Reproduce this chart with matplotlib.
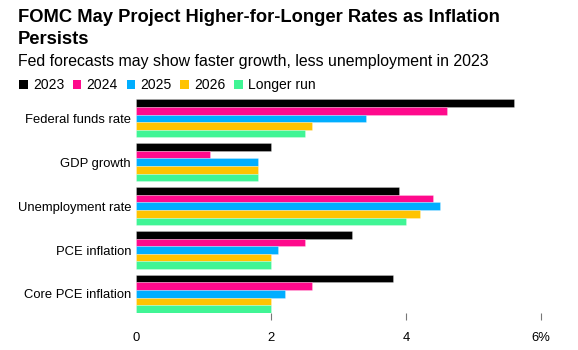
import numpy as np
import matplotlib
matplotlib.use("Agg")
import matplotlib.pyplot as plt
from matplotlib.patches import Patch

plt.rcParams['font.family'] = ['Liberation Sans', 'DejaVu Sans']

# data
categories = ["Federal funds rate", "GDP growth", "Unemployment rate",
              "PCE inflation", "Core PCE inflation"]
series_names = ["2023", "2024", "2025", "2026", "Longer run"]
v2023 = [5.6, 2.0, 3.9, 3.2, 3.8]
v2024 = [4.6, 1.1, 4.4, 2.5, 2.6]
v2025 = [3.4, 1.8, 4.5, 2.1, 2.2]
v2026 = [2.6, 1.8, 4.2, 2.0, 2.0]
vlonger = [2.5, 1.8, 4.0, 2.0, 2.0]
tick_vals = [0, 2, 4, 6]
tick_labels = ["0", "2", "4", "6%"]

colors = ["#000000", "#ff0a8c", "#00aeff", "#ffc300", "#40f595"]
series = [v2023, v2024, v2025, v2026, vlonger]

W, H = 578, 350
fig = plt.figure(figsize=(W / 100, H / 100), dpi=100)
ax = fig.add_axes([136 / W, 1 - 313 / H, 405 / W, (313 - 99.3) / H])

bar_h = 0.174
y = np.arange(len(categories))
for i, (vals, col) in enumerate(zip(series, colors)):
    offs = (i - 2) * bar_h
    ax.barh(y + offs, vals, height=bar_h, color=col,
            edgecolor=(1, 1, 1, 0.35), linewidth=0.5, label=series_names[i])

ax.set_xlim(0, 6)
ax.set_ylim(len(categories) - 1 + 2.5 * bar_h, -2.5 * bar_h)
ax.set_yticks(y)
ax.set_yticklabels(categories, fontsize=9.4, color="black")
ax.tick_params(axis="y", length=0, pad=3.6)
ax.set_xticks(tick_vals)
ax.set_xticklabels(tick_labels, fontsize=9.4, color="black")
ax.tick_params(axis="x", length=5, width=0.8, color="#777777", pad=8.5)
ax.xaxis.get_major_ticks()[0].tick1line.set_visible(False)
for s in ax.spines.values():
    s.set_visible(False)

# title block
fig.text(18 / W, 1 - 22 / H, "FOMC May Project Higher-for-Longer Rates as Inflation",
         fontsize=13.2, fontweight="bold", va="baseline", ha="left")
fig.text(18 / W, 1 - 44 / H, "Persists",
         fontsize=13.2, fontweight="bold", va="baseline", ha="left")
fig.text(18 / W, 1 - 66 / H, "Fed forecasts may show faster growth, less unemployment in 2023",
         fontsize=11.4, va="baseline", ha="left")

handles = [Patch(facecolor=c, edgecolor="none") for c in colors]
fig.legend(handles, series_names, loc="center left",
           bbox_to_anchor=(19 / W, 1 - 85 / H), ncol=5, frameon=False,
           fontsize=10, handlelength=0.62, handleheight=0.62,
           handletextpad=0.38, columnspacing=0.62, borderaxespad=0, borderpad=0)

fig.savefig("out.png", dpi=100)
